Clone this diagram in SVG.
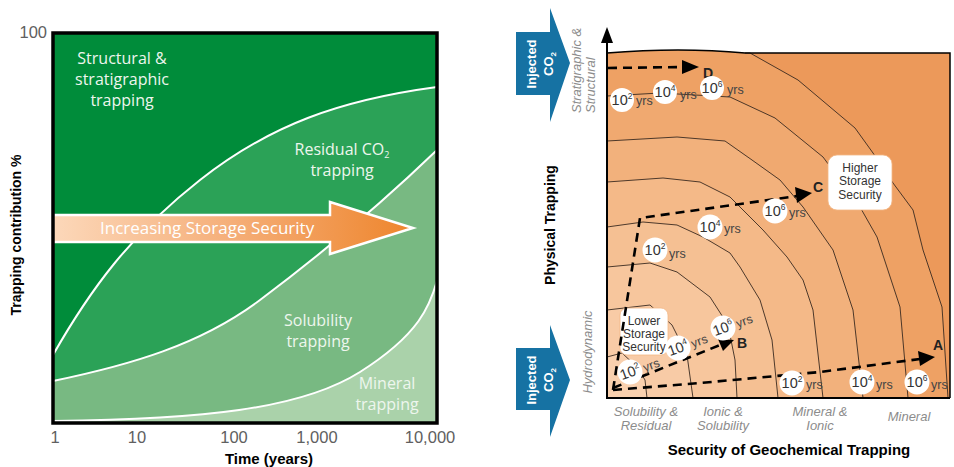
<svg xmlns="http://www.w3.org/2000/svg" width="954" height="467" viewBox="0 0 954 467">
<defs>
<linearGradient id="arrowGrad" x1="53" y1="0" x2="413" y2="0" gradientUnits="userSpaceOnUse">
<stop offset="0" stop-color="#FCD8BA"/>
<stop offset="0.5" stop-color="#F5AE78"/>
<stop offset="1" stop-color="#EE852C"/>
</linearGradient>
<style>
.lbl{font-family:"Open Sans","Liberation Sans",sans-serif;font-size:16px;fill:#EEF6EE;text-anchor:middle}
.tick{font-family:"Liberation Sans",Arial,sans-serif;font-size:16.5px;fill:#606060;text-anchor:middle}
.axt{font-family:"Liberation Sans",Arial,sans-serif;font-weight:bold;fill:#000}
.bound{fill:none;stroke:#fff;stroke-width:2}
.cont{fill:none;stroke:#3a2a20;stroke-width:0.9}
.dash{fill:none;stroke:#000;stroke-width:2.6;stroke-dasharray:9 6}
.ah{fill:#000}
.circ{fill:#fff}
.ten{font-family:"Liberation Sans",Arial,sans-serif;font-size:14.5px;fill:#333;text-anchor:middle}
.yrs{font-family:"Liberation Sans",Arial,sans-serif;font-size:12.5px;fill:#444}
.cat{font-family:"Liberation Sans",Arial,sans-serif;font-size:13px;font-style:italic;fill:#8c8c8c}
.box{fill:#fff;stroke:#F2B886;stroke-width:0.8}
.boxt{font-family:"Liberation Sans",Arial,sans-serif;font-size:12px;fill:#333;text-anchor:middle}
.inj{font-family:"Liberation Sans",Arial,sans-serif;font-size:13px;font-weight:bold;fill:#fff;text-anchor:middle}
.blue{fill:#1672A3}
.letter{font-family:"Liberation Sans",Arial,sans-serif;font-size:14px;font-weight:bold;fill:#222}
</style>
</defs>
<rect width="954" height="467" fill="#fff"/>

<!-- LEFT CHART -->
<g id="left-chart">
  <rect x="53" y="33" width="384" height="390" fill="#008C3A"/>
  <path d="M53,355 C90,290 130,235 200,180 S340,100 437,87 L437,423 L53,423 Z" fill="#2BA257"/>
  <path d="M53,381 C130,365 200,345 260,300 S380,205 437,150 L437,423 L53,423 Z" fill="#78B982"/>
  <path d="M53,421 C200,419 300,410 360,372 S430,305 437,281 L437,423 L53,423 Z" fill="#AAD2AA"/>
  <path class="bound" d="M53,355 C90,290 130,235 200,180 S340,100 437,87"/>
  <path class="bound" d="M53,381 C130,365 200,345 260,300 S380,205 437,150"/>
  <path class="bound" d="M53,421 C200,419 300,410 360,372 S430,305 437,281"/>
</g>
<g id="storage-arrow">
  <polygon points="53,215 330,215 330,202 413,228 330,254 330,242 53,242" fill="url(#arrowGrad)" stroke="#fff" stroke-width="2.5" stroke-linejoin="miter"/>
  <text x="100" y="234" style="font-family:'Open Sans','Liberation Sans',sans-serif;font-size:17px;fill:#fff">Increasing Storage Security</text>
</g>
<g id="structural-label">
  <text class="lbl" x="122" y="64">Structural &amp;</text>
  <text class="lbl" x="122" y="85">stratigraphic</text>
  <text class="lbl" x="122" y="106">trapping</text>
</g>
<g id="residual-label">
  <text class="lbl" x="342" y="155">Residual CO<tspan font-size="9" dy="3">2</tspan></text>
  <text class="lbl" x="342" y="176">trapping</text>
</g>
<g id="solubility-label">
  <text class="lbl" x="318" y="326">Solubility</text>
  <text class="lbl" x="318" y="347">trapping</text>
</g>
<g id="mineral-label">
  <text class="lbl" x="387" y="389">Mineral</text>
  <text class="lbl" x="387" y="410">trapping</text>
</g>
<rect x="53" y="33" width="384" height="390" fill="none" stroke="#000" stroke-width="3.5"/>
<g id="left-axes">
  <text class="tick" x="47" y="38" style="text-anchor:end">100</text>
  <text class="tick" x="55" y="443">1</text>
  <text class="tick" x="137" y="443">10</text>
  <text class="tick" x="234" y="443">100</text>
  <text class="tick" x="317" y="443">1,000</text>
  <text class="tick" x="430" y="443">10,000</text>
  <text class="axt" x="269" y="464" font-size="15" text-anchor="middle">Time (years)</text>
  <text class="axt" font-size="14" text-anchor="middle" transform="translate(21,235) rotate(-90)">Trapping contribution %</text>
</g>

<!-- RIGHT CHART -->
<g id="right-bands">
  <path d="M607,398 L607,53 Q680,47 745,53 L950,53 L950,398 Z" fill="#EC995A"/>
  <path d="M607,398 L607,53 Q680,47 745,53 L750,53 L798,80 L855,128 L873,153 L893,183 L913,210 L923,250 L942,307 L948,398 Z" fill="#EEA164"/>
  <path d="M607,398 L607,96 L660,93 L730,97 L775,118 L823,157 L860,207 L877,237 L900,307 L908,398 Z" fill="#F0A970"/>
  <path d="M607,398 L607,141 L677,137 L725,141 L752,160 L780,180 L803,207 L833,250 L853,310 L863,398 Z" fill="#F2B17C"/>
  <path d="M607,398 L607,182 L663,178 L700,182 L730,197 L763,230 L787,257 L803,280 L813,310 L823,398 Z" fill="#F4B988"/>
  <path d="M607,398 L607,227 L643,222 L677,225 L703,237 L730,253 L740,267 L760,300 L772,340 L778,398 Z" fill="#F5C093"/>
  <path d="M607,398 L607,267 L650,263 L677,272 L710,297 L728,325 L735,360 L737,398 Z" fill="#F7C69D"/>
  <path d="M607,398 L607,310 L650,305 L672,325 L687,355 L693,398 Z" fill="#F8CBA6"/>
  <path d="M607,398 L607,357 L622,353 L637,367 L645,380 L647,398 Z" fill="#F9D0AE"/>
</g>
<g id="contours">
  <polyline class="cont" points="745,53 750,53 798,80 855,128 873,153 893,183 913,210 923,250 942,307 948,398"/>
  <polyline class="cont" points="607,96 660,93 730,97 775,118 823,157 860,207 877,237 900,307 908,398"/>
  <polyline class="cont" points="607,141 677,137 725,141 752,160 780,180 803,207 833,250 853,310 863,398"/>
  <polyline class="cont" points="607,182 663,178 700,182 730,197 763,230 787,257 803,280 813,310 823,398"/>
  <polyline class="cont" points="607,227 643,222 677,225 703,237 730,253 740,267 760,300 772,340 778,398"/>
  <polyline class="cont" points="607,267 650,263 677,272 710,297 728,325 735,360 737,398"/>
  <polyline class="cont" points="607,310 650,305 672,325 687,355 693,398"/>
  <polyline class="cont" points="607,357 622,353 637,367 645,380 647,398"/>
</g>
<g id="lower-box">
  <rect class="box" x="620" y="308" width="48" height="47" rx="7"/>
  <text class="boxt" x="644" y="325">Lower</text>
  <text class="boxt" x="644" y="338">Storage</text>
  <text class="boxt" x="644" y="351">Security</text>
</g>
<g id="higher-box">
  <rect class="box" x="828" y="155" width="64" height="55" rx="9"/>
  <text class="boxt" x="860" y="172">Higher</text>
  <text class="boxt" x="860" y="185">Storage</text>
  <text class="boxt" x="860" y="199">Security</text>
</g>
<g id="connectors">
  <path class="dash" d="M608,68 L684,67"/>
  <polygon class="ah" points="699,67 682,60 682,74"/>
  <path class="dash" d="M613,390 L700,383 L820,372 L920,359"/>
  <polygon class="ah" points="935,357 918,351 920,366"/>
  <path class="dash" d="M613,388 L720,345"/>
  <polygon class="ah" points="734,340 718,339 723,351"/>
  <path class="dash" d="M613,390 L640,218 L797,196"/>
  <polygon class="ah" points="812,193 795,187 797,203"/>
</g>
<g id="letters">
  <text class="letter" x="703" y="78">D</text>
  <text class="letter" x="933" y="350">A</text>
  <text class="letter" x="737" y="348">B</text>
  <text class="letter" x="813" y="192">C</text>
</g>
<g id="time-labels">
  <g><circle class="circ" cx="622" cy="100" r="12"/><text class="ten" x="622" y="105">10<tspan font-size="8.5" dy="-6">2</tspan></text><text class="yrs" x="636" y="105">yrs</text></g>
  <g><circle class="circ" cx="665" cy="92" r="12"/><text class="ten" x="665" y="97">10<tspan font-size="8.5" dy="-6">4</tspan></text><text class="yrs" x="680" y="99">yrs</text></g>
  <g><circle class="circ" cx="712" cy="88" r="12"/><text class="ten" x="712" y="93">10<tspan font-size="8.5" dy="-6">6</tspan></text><text class="yrs" x="727" y="94">yrs</text></g>
  <g><circle class="circ" cx="655" cy="250" r="12.5"/><text class="ten" x="655" y="255">10<tspan font-size="8.5" dy="-6">2</tspan></text><text class="yrs" x="669" y="258">yrs</text></g>
  <g><circle class="circ" cx="710" cy="227" r="12.5"/><text class="ten" x="710" y="232">10<tspan font-size="8.5" dy="-6">4</tspan></text><text class="yrs" x="724" y="233">yrs</text></g>
  <g><circle class="circ" cx="775" cy="211" r="12.5"/><text class="ten" x="775" y="216">10<tspan font-size="8.5" dy="-6">6</tspan></text><text class="yrs" x="789" y="217">yrs</text></g>
  <g><circle class="circ" cx="792" cy="383" r="12.5"/><text class="ten" x="792" y="388">10<tspan font-size="8.5" dy="-6">2</tspan></text><text class="yrs" x="806" y="389">yrs</text></g>
  <g><circle class="circ" cx="862" cy="382" r="12.5"/><text class="ten" x="862" y="387">10<tspan font-size="8.5" dy="-6">4</tspan></text><text class="yrs" x="876" y="389">yrs</text></g>
  <g><circle class="circ" cx="917" cy="382" r="12.5"/><text class="ten" x="917" y="387">10<tspan font-size="8.5" dy="-6">6</tspan></text><text class="yrs" x="931" y="389">yrs</text></g>
  <g transform="rotate(-20 630 372)"><circle class="circ" cx="630" cy="372" r="12.5"/><text class="ten" x="630" y="377">10<tspan font-size="8.5" dy="-6">2</tspan></text><text class="yrs" x="644" y="377">yrs</text></g>
  <g transform="rotate(-20 678 348)"><circle class="circ" cx="678" cy="348" r="12.5"/><text class="ten" x="678" y="353">10<tspan font-size="8.5" dy="-6">4</tspan></text><text class="yrs" x="692" y="353">yrs</text></g>
  <g transform="rotate(-20 723 328)"><circle class="circ" cx="723" cy="328" r="12.5"/><text class="ten" x="723" y="333">10<tspan font-size="8.5" dy="-6">6</tspan></text><text class="yrs" x="737" y="333">yrs</text></g>
</g>
<g id="right-axes">
  <path d="M607,53 Q680,47 745,53 L950,53 L950,398" fill="none" stroke="#000" stroke-width="1.5"/>
  <line x1="606" y1="398" x2="950" y2="398" stroke="#000" stroke-width="2"/>
  <line x1="607" y1="399" x2="607" y2="40" stroke="#000" stroke-width="2"/>
  <polygon class="ah" points="607,27 601,43 613,43"/>
  <text class="axt" font-size="14" text-anchor="middle" transform="translate(555,225) rotate(-90)">Physical Trapping</text>
  <text class="axt" x="789" y="455" font-size="15" text-anchor="middle">Security of Geochemical Trapping</text>
  <text class="cat" transform="translate(581,113) rotate(-90)">Stratigraphic &amp;</text>
  <text class="cat" transform="translate(595,113) rotate(-90)">Structural</text>
  <text class="cat" text-anchor="middle" transform="translate(592,352) rotate(-90)">Hydrodynamic</text>
  <text class="cat" x="646" y="416" text-anchor="middle">Solubility &amp;</text>
  <text class="cat" x="646" y="430" text-anchor="middle">Residual</text>
  <text class="cat" x="723" y="416" text-anchor="middle">Ionic &amp;</text>
  <text class="cat" x="723" y="430" text-anchor="middle">Solubility</text>
  <text class="cat" x="820" y="416" text-anchor="middle">Mineral &amp;</text>
  <text class="cat" x="820" y="430" text-anchor="middle">Ionic</text>
  <text class="cat" x="909" y="421" text-anchor="middle">Mineral</text>
</g>
<g id="injected-top">
  <polygon class="blue" points="516,32 550,32 550,8 570,63 550,122 550,95 516,95"/>
  <text class="inj" transform="translate(536,64) rotate(-90)">Injected</text>
  <text class="inj" transform="translate(553,64) rotate(-90)">CO<tspan font-size="8" dy="3">2</tspan></text>
</g>
<g id="injected-bottom">
  <polygon class="blue" points="516,348 550,348 550,325 570,380 550,437 550,410 516,410"/>
  <text class="inj" transform="translate(536,380) rotate(-90)">Injected</text>
  <text class="inj" transform="translate(553,380) rotate(-90)">CO<tspan font-size="8" dy="3">2</tspan></text>
</g>
</svg>
